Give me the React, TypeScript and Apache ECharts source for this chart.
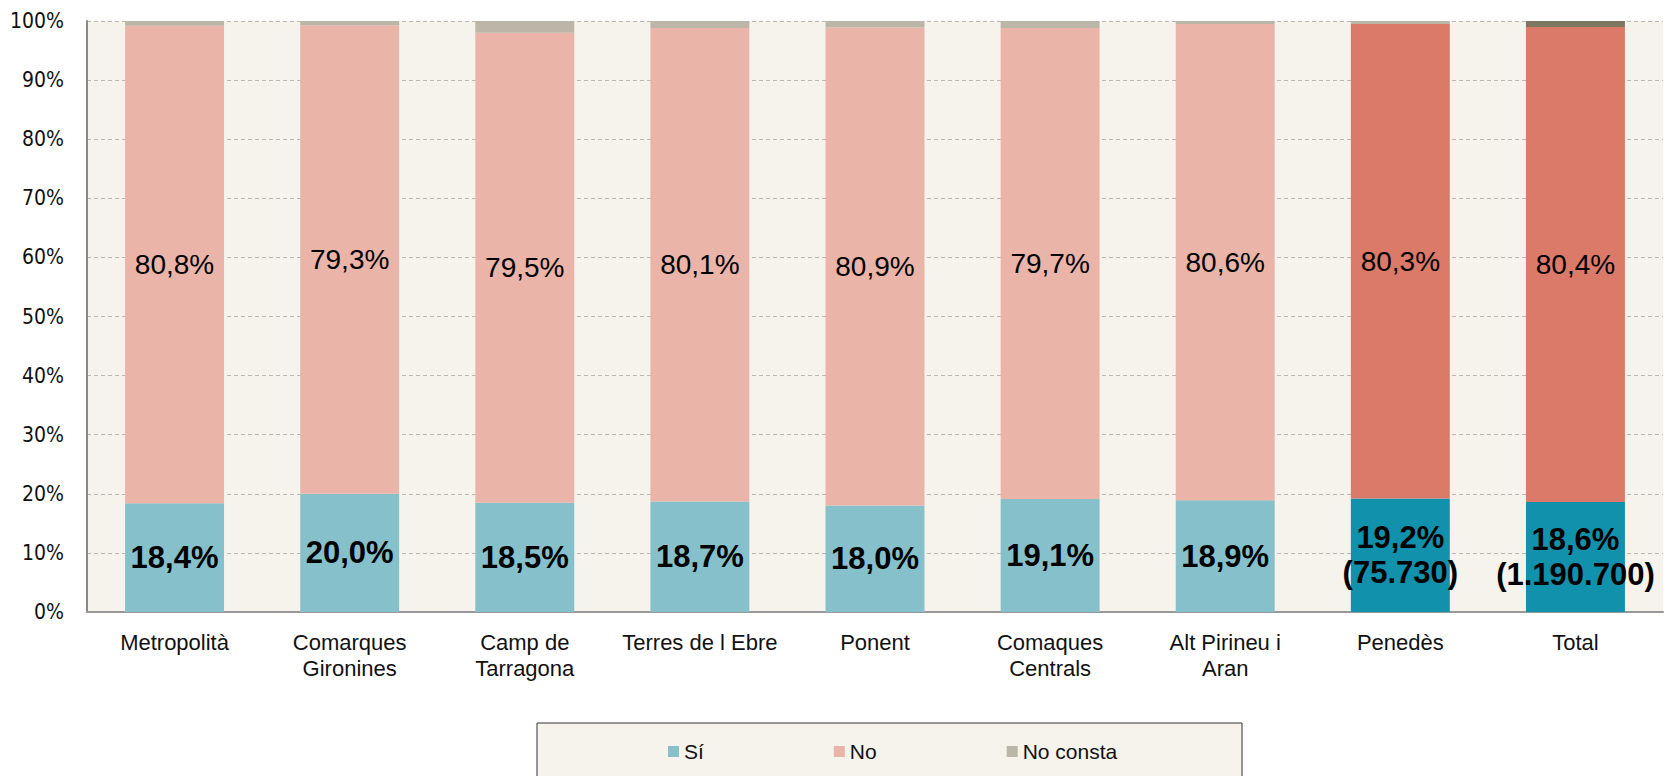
import React, { useEffect, useRef } from "react";
import * as echarts from "echarts";

const categories = [
  "Metropolità",
  "Comarques\nGironines",
  "Camp de\nTarragona",
  "Terres de l Ebre",
  "Ponent",
  "Comaques\nCentrals",
  "Alt Pirineu i\nAran",
  "Penedès",
  "Total",
];
const siValues = [18.4, 20.0, 18.5, 18.7, 18.0, 19.1, 18.9, 19.2, 18.6];
const noValues = [80.8, 79.3, 79.5, 80.1, 80.9, 79.7, 80.6, 80.3, 80.4];
const noConstaValues = [0.8, 0.7, 2.0, 1.2, 1.1, 1.2, 0.5, 0.5, 1.0];
const siCounts: (number | null)[] = [null, null, null, null, null, null, null, 75730, 1190700];
const yTicks = [0, 10, 20, 30, 40, 50, 60, 70, 80, 90, 100];
const highlighted = ["Penedès", "Total"];

const fmtPct = (v: number) => v.toFixed(1).replace(".", ",") + "%";
const fmtCount = (n: number) => String(n).replace(/\B(?=(\d{3})+(?!\d))/g, ".");

export default function App() {
  const ref = useRef<HTMLDivElement>(null);
  useEffect(() => {
    if (!ref.current) return;
    const chart = echarts.init(ref.current, null, { renderer: "svg" });
    const isHi = (i: number) => highlighted.includes(categories[i]);
    const font = "'Liberation Sans', 'Noto Sans', sans-serif";
    chart.setOption({
      animation: false,
      backgroundColor: "#ffffff",
      grid: {
        left: 87,
        top: 21,
        right: 5,
        bottom: 164,
        show: true,
        backgroundColor: "#f6f2ec",
        borderWidth: 0,
      },
      graphic: [
        {
          type: "rect",
          z: 0,
          shape: { x: 537, y: 723, width: 705, height: 80 },
          style: { fill: "#f6f2ec", stroke: "#333333", lineWidth: 1 },
        },
      ],
      legend: {
        left: 663,
        top: 736,
        itemWidth: 11,
        itemHeight: 11,
        itemGap: 130,
        icon: "rect",
        textStyle: { fontFamily: font, fontSize: 21, color: "#111" },
        data: ["Sí", "No", "No consta"],
      },
      xAxis: {
        type: "category",
        data: categories,
        axisLine: { show: true, lineStyle: { color: "#999999", width: 2 } },
        axisTick: { show: false },
        axisLabel: {
          interval: 0,
          margin: 17,
          fontFamily: font,
          fontSize: 22,
          lineHeight: 26,
          color: "#111",
        },
      },
      yAxis: {
        type: "value",
        min: yTicks[0],
        max: yTicks[yTicks.length - 1],
        interval: 10,
        axisLine: { show: true, lineStyle: { color: "#888888", width: 2 } },
        axisTick: { show: false },
        axisLabel: {
          formatter: "{value}%",
          margin: 23,
          fontFamily: "'Liberation Sans Narrow', 'DejaVu Sans Condensed', 'Liberation Sans', sans-serif",
          fontSize: 21,
          color: "#111",
        },
        splitLine: { show: true, lineStyle: { color: "#bdb8b1", type: [4, 3], width: 1 } },
      },
      series: [
        {
          name: "Sí",
          type: "bar",
          stack: "total",
          barWidth: "56.5%",
          itemStyle: { color: "#86c1cb" },
          data: siValues.map((v, i) => ({
            value: v,
            itemStyle: { color: isHi(i) ? "#1191ac" : "#86c1cb" },
          })),
          label: {
            show: true,
            position: "inside",
            fontFamily: font,
            fontWeight: "bold",
            fontSize: 31,
            lineHeight: 35,
            color: "#000",
            formatter: (p: any) => {
              const c = siCounts[p.dataIndex];
              return c != null ? `${fmtPct(p.value)}\n(${fmtCount(c)})` : fmtPct(p.value);
            },
          },
        },
        {
          name: "No",
          type: "bar",
          stack: "total",
          itemStyle: { color: "#eab5a8" },
          data: noValues.map((v, i) => ({
            value: v,
            itemStyle: { color: isHi(i) ? "#dc7a69" : "#eab5a8" },
          })),
          label: {
            show: true,
            position: "inside",
            fontFamily: font,
            fontSize: 28,
            color: "#000",
            formatter: (p: any) => fmtPct(p.value),
          },
        },
        {
          name: "No consta",
          type: "bar",
          stack: "total",
          itemStyle: { color: "#bcb6a8" },
          data: noConstaValues.map((v, i) => ({
            value: v,
            itemStyle: { color: categories[i] === "Total" ? "#7d7660" : "#bcb6a8" },
          })),
        },
      ],
    });
    return () => chart.dispose();
  }, []);
  return (
    <div
      ref={ref}
      style={{ position: "fixed", left: 0, top: 0, width: 1668, height: 776 }}
    />
  );
}
